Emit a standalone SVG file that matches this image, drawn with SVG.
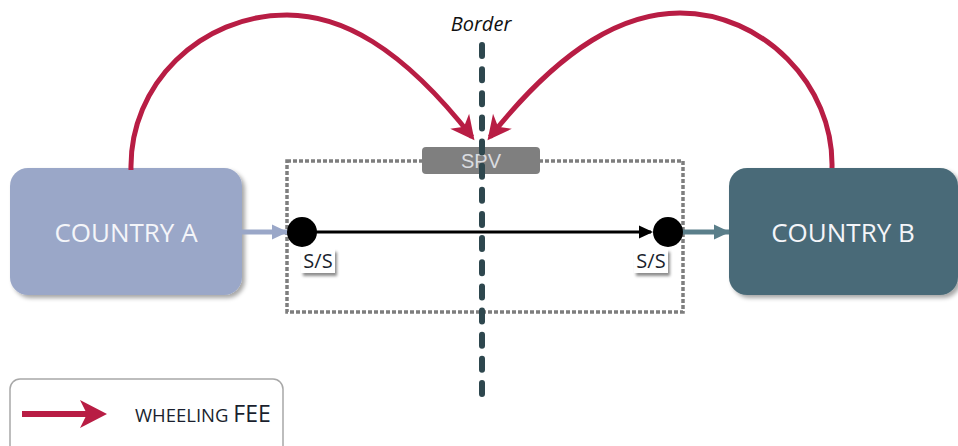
<svg xmlns="http://www.w3.org/2000/svg" width="958" height="446" viewBox="0 0 958 446">
  <defs>
    <style>
      .country-text { font-family: "Open Sans", "Noto Sans", sans-serif; font-size: 26px; fill: #F4F5F9; text-anchor: middle; }
      .ss-text { font-family: "Open Sans", "Noto Sans", sans-serif; font-size: 20px; fill: #1A1F2E; text-anchor: middle; }
      .fee { fill: none; stroke: #B81D44; stroke-width: 5; }
      .node-dot { fill: #000; }
    </style>
    <filter id="shadow" x="-10%" y="-10%" width="130%" height="140%">
      <feDropShadow dx="3" dy="3" stdDeviation="2" flood-color="#000" flood-opacity="0.35"/>
    </filter>
    <filter id="labelShadow" x="-20%" y="-20%" width="150%" height="160%">
      <feDropShadow dx="2" dy="3" stdDeviation="1.5" flood-color="#000" flood-opacity="0.45"/>
    </filter>
    <marker id="feeHead" markerUnits="userSpaceOnUse" viewBox="-24 -13 30 26" refX="0" refY="0" markerWidth="30" markerHeight="26" orient="auto" overflow="visible">
      <path d="M4,0 L-20,-12 L-13,0 L-20,12 Z" fill="#B81D44"/>
    </marker>
    <marker id="blackHead" markerUnits="userSpaceOnUse" viewBox="-14 -7 16 14" refX="0" refY="0" markerWidth="16" markerHeight="14" orient="auto" overflow="visible">
      <path d="M2,0 L-12,-6.5 L-12,6.5 Z" fill="#000"/>
    </marker>
    <marker id="blueHead" markerUnits="userSpaceOnUse" viewBox="-16 -8 18 16" refX="0" refY="0" markerWidth="18" markerHeight="16" orient="auto" overflow="visible">
      <path d="M1,0 L-15,-7.5 L-15,7.5 Z" fill="#9AA7C8"/>
    </marker>
    <marker id="tealHead" markerUnits="userSpaceOnUse" viewBox="-16 -8 18 16" refX="0" refY="0" markerWidth="18" markerHeight="16" orient="auto" overflow="visible">
      <path d="M1,0 L-15,-7.5 L-15,7.5 Z" fill="#5A7E8A"/>
    </marker>
  </defs>

  <rect width="958" height="446" fill="#FFFFFF"/>

  <!-- SPV boundary -->
  <g id="spv-area">
    <rect x="287" y="161" width="396" height="151" fill="none" stroke="#7E7E7E" stroke-width="3.5" stroke-dasharray="4 2"/>
    <rect x="422" y="147" width="118" height="27" rx="4" fill="#7F7F7F"/>
    <text x="481" y="168" font-family="Liberation Sans, Arial, sans-serif" font-size="20" fill="#DADCE0" text-anchor="middle">SPV</text>
  </g>

  <!-- Countries -->
  <g id="country-a">
    <rect x="10" y="168" width="232" height="127" rx="18" fill="#9AA7C8" filter="url(#shadow)"/>
    <text class="country-text" x="126" y="242">COUNTRY A</text>
  </g>
  <g id="country-b">
    <rect x="729" y="168" width="229" height="127" rx="18" fill="#4A6B78" filter="url(#shadow)"/>
    <text class="country-text" x="843" y="242">COUNTRY B</text>
  </g>

  <!-- Connectors -->
  <g id="connectors">
    <line x1="242" y1="232" x2="287" y2="232" stroke="#9AA7C8" stroke-width="5" marker-end="url(#blueHead)"/>
    <line x1="682" y1="232" x2="729" y2="232" stroke="#5A7E8A" stroke-width="5" marker-end="url(#tealHead)"/>
    <line x1="302" y1="232" x2="651" y2="232" stroke="#000" stroke-width="3" marker-end="url(#blackHead)"/>
    <path class="fee" d="M131,170 C129,84 201,15 287,15 C340,15 400,45 472,137" marker-end="url(#feeHead)"/>
    <path class="fee" d="M832,168 C834,84 762,13 680,13 C625,13 563,45 490,137" marker-end="url(#feeHead)"/>
  </g>

  <!-- Border line -->
  <g id="border">
    <line x1="482" y1="45" x2="482" y2="394" stroke="#2E474E" stroke-width="6" stroke-linecap="round" stroke-dasharray="11 13.14"/>
    <text x="481" y="31" font-family="Open Sans, Noto Sans, sans-serif" font-style="italic" font-size="20" fill="#111" text-anchor="middle">Border</text>
  </g>

  <!-- Substations -->
  <g id="ss-left">
    <circle class="node-dot" cx="302" cy="232" r="15"/>
    <rect x="301" y="249" width="34" height="24" fill="#FFF" filter="url(#labelShadow)"/>
    <text class="ss-text" x="318" y="268">S/S</text>
  </g>
  <g id="ss-right">
    <circle class="node-dot" cx="668" cy="232" r="15"/>
    <rect x="634" y="249" width="34" height="24" fill="#FFF" filter="url(#labelShadow)"/>
    <text class="ss-text" x="651" y="268">S/S</text>
  </g>

  <!-- Legend -->
  <g id="legend">
    <rect x="10" y="379" width="273" height="80" rx="10" fill="#FFF" stroke="#A8A8A8" stroke-width="1.5"/>
    <line x1="22" y1="414" x2="92" y2="414" stroke="#B81D44" stroke-width="6"/>
    <path d="M107,414 L80,400 L87,414 L80,428 Z" fill="#B81D44"/>
    <text x="135" y="422" font-family="Open Sans, Noto Sans, sans-serif" fill="#1A1F2E"><tspan font-size="18.5">WHEELING </tspan><tspan font-size="23">FEE</tspan></text>
  </g>
</svg>
